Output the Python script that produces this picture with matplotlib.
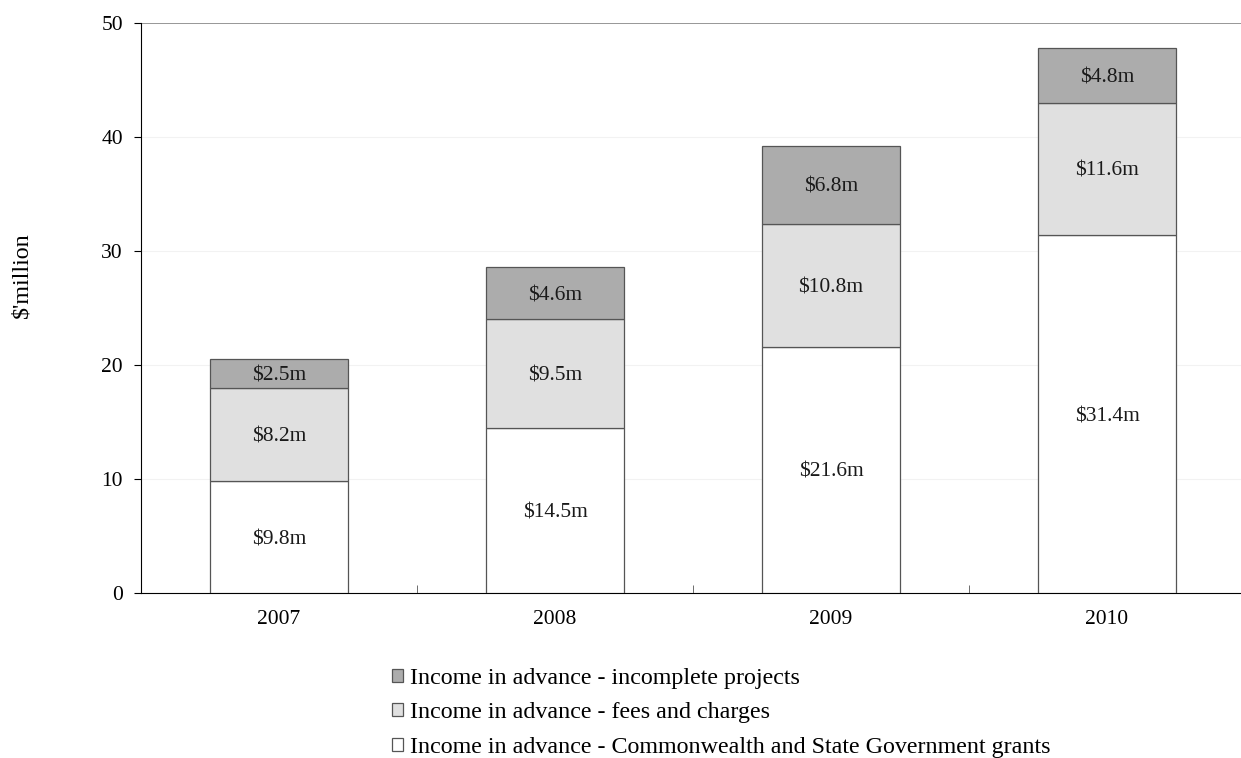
import matplotlib
matplotlib.use("Agg")
import matplotlib.pyplot as plt
import numpy as np

plt.rcParams['font.family'] = ['Liberation Serif', 'DejaVu Serif']

years = ["2007", "2008", "2009", "2010"]
grants = [9.8, 14.5, 21.6, 31.4]
fees = [8.2, 9.5, 10.8, 11.6]
projects = [2.5, 4.6, 6.8, 4.8]

series = [
    ("Income in advance - Commonwealth and State Government grants", grants, "#ffffff"),
    ("Income in advance - fees and charges", fees, "#e0e0e0"),
    ("Income in advance - incomplete projects", projects, "#acacac"),
]

W, H = 1241, 758
fig = plt.figure(figsize=(W / 100, H / 100), dpi=100)
ax = fig.add_axes([141 / W, 1 - 593 / H, 1104 / W, 570 / H])

x = np.arange(len(years))
bottom = np.zeros(len(years))
handles = []
for label, vals, color in series:
    vals = np.array(vals)
    bars = ax.bar(x, vals, width=0.5, bottom=bottom, color=color,
                  edgecolor="#555555", linewidth=0.9, label=label, zorder=3)
    handles.append(bars)
    for xi, b, v in zip(x, bottom, vals):
        ax.text(xi, b + v / 2, f"${v:.1f}m", ha="center", va="center_baseline",
                fontsize=15.5, color="#1a1a1a", zorder=4)
    bottom = bottom + vals

ax.set_xlim(-0.5, len(years) - 0.5)
ax.set_ylim(0, 50)
ax.set_yticks(range(0, 51, 10))
ax.yaxis.grid(True, color="#f2f2f2", linewidth=0.8, zorder=0)
ax.axhline(50, color="#888888", linewidth=1.2, zorder=2)

ax.set_xticks(x)
ax.set_xticklabels(years)
ax.tick_params(axis="x", length=0, pad=12, labelsize=15.5)
# separators between categories
ax.set_xticks(np.arange(0.5, len(years) - 0.5, 1), minor=True)
ax.tick_params(axis="x", which="minor", direction="in", length=6, color="#555555")
ax.tick_params(axis="y", direction="out", length=5, pad=8, labelsize=15.5)

for side in ("top", "right"):
    ax.spines[side].set_visible(False)
ax.spines["left"].set_color("#000000")
ax.spines["bottom"].set_color("#000000")

fig.text(22 / W, 1 - 275 / H, "$'million", rotation=90, ha="center", va="center",
         fontsize=17.3)

leg = fig.legend(handles[::-1], [s[0] for s in series][::-1],
                 loc="upper left", bbox_to_anchor=(370 / W, 1 - 646 / H),
                 frameon=False, fontsize=17.3, handlelength=0.46, handleheight=0.46,
                 handletextpad=0.3, labelspacing=0.57)

fig.savefig("out.png", dpi=100)
